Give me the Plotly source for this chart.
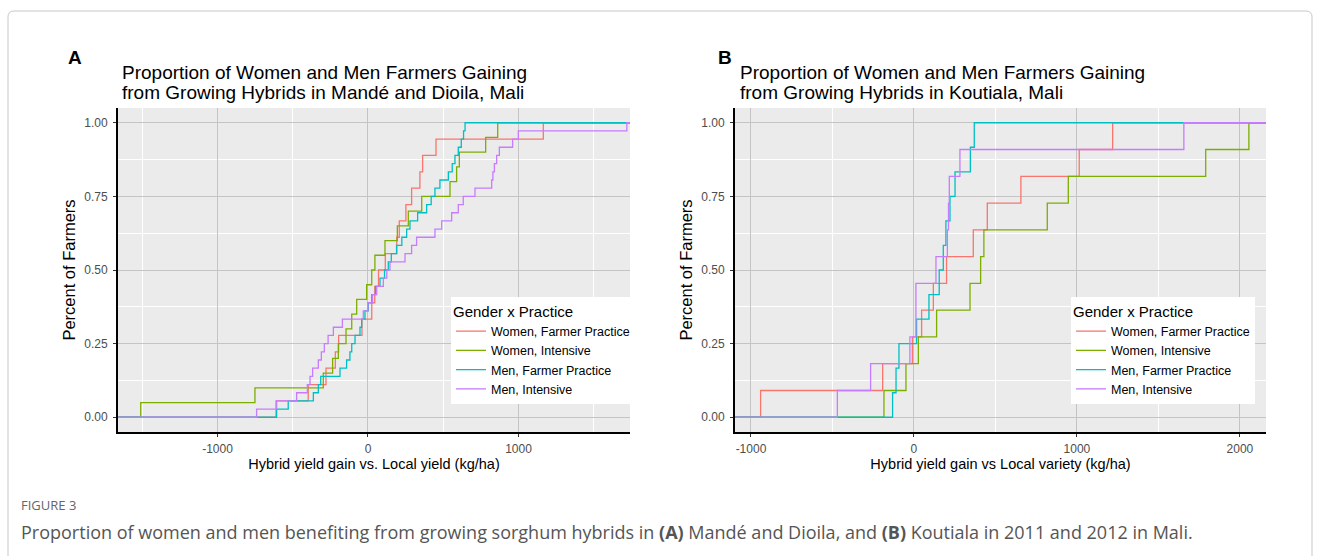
import plotly.graph_objects as go

W, H = 1320, 556

# ---------------- data (sample values per group, kg/ha) ----------------
groups = ["Women, Farmer Practice", "Women, Intensive", "Men, Farmer Practice", "Men, Intensive"]
colors = ["#F8766D", "#7CAE00", "#00BFC4", "#C77CFF"]

# Panel A: Mandé and Dioila
a_women_fp = [-611, -397, -279, -217, -195, -40, 25, 45, 70, 115, 191, 208, 252, 290, 345, 363, 452, 1165]
a_women_int = [-1510, -751, -297, -235, -197, -146, -108, -75, -9, 25, 46, 113, 195, 268, 357, 545, 589, 607, 782, 862]
a_men_fp = [-607, -530, -363, -330, -314, -186, -142, -120, -108, -86, -53, -42, -20, 2, 25, 50, 80, 110, 135, 155,
            190, 225, 257, 279, 330, 390, 420, 445, 478, 534, 560, 578, 600, 620, 635, 645]
a_men_int = [-740, -607, -474, -403, -385, -368, -330, -310, -290, -265, -230, -170, -31, 0, 30, 58, 102, 125,
             146, 246, 290, 323, 445, 490, 556, 600, 633, 711, 822, 830, 840, 855, 873, 961, 999, 1720]

# Panel B: Koutiala
b_women_fp = [-941, -192, -10, 47, 119, 200, 364, 450, 656, 1014, 1219]
b_women_int = [-184, -49, 27, 139, 344, 409, 429, 818, 947, 1790, 2055]
b_men_fp = [-131, -110, -92, 16, 92, 155, 180, 196, 221, 252, 346, 370]
b_men_int = [-470, -266, -25, 12, 12, 135, 205, 212, 217, 282, 1656]

x_ticks_a = [-1000, 0, 1000]
x_ticks_b = [-1000, 0, 1000, 2000]
y_ticks = [0, 0.25, 0.5, 0.75, 1.0]

title_a = ["Proportion of Women and Men Farmers Gaining", "from Growing Hybrids in Mandé and Dioila, Mali"]
title_b = ["Proportion of Women and Men Farmers Gaining", "from Growing Hybrids in Koutiala, Mali"]
xlab_a = "Hybrid yield gain vs. Local yield (kg/ha)"
xlab_b = "Hybrid yield gain vs Local variety (kg/ha)"
ylab = "Percent of Farmers"
caption = ("Proportion of women and men benefiting from growing sorghum hybrids in <b>(A)</b> Mandé and Dioila, "
           "and <b>(B)</b> Koutiala in 2011 and 2012 in Mali.")

# ---------------- layout geometry (pixels) ----------------
A_L, A_R = 118, 630
B_L, B_R = 735, 1266
P_T, P_B = 108, 432
range_a = [-1661, 1741]
range_b = [-1098, 2160]


def px(x):
    return x / W


def py(y):
    return 1 - y / H


def ecdf(vals, lo, hi):
    v = sorted(vals)
    n = len(v)
    xs = [lo] + v + [hi]
    ys = [0.0] + [(i + 1) / n for i in range(n)] + [1.0]
    return xs, ys


fig = go.Figure()
FONT = "Liberation Sans, Arial, sans-serif"

for data, xa, ya, leg, rng in [
    ([a_women_fp, a_women_int, a_men_fp, a_men_int], "x", "y", "legend", range_a),
    ([b_women_fp, b_women_int, b_men_fp, b_men_int], "x2", "y2", "legend2", range_b),
]:
    for g, c, vals in zip(groups, colors, data):
        xs, ys = ecdf(vals, rng[0], rng[1])
        fig.add_trace(go.Scatter(
            x=xs, y=ys, mode="lines", line=dict(color=c, width=1.3, shape="hv"),
            name=g, xaxis=xa, yaxis=ya, legend=leg, showlegend=True, hoverinfo="x+y+name",
        ))

axis_common = dict(
    showline=True, linecolor="black", linewidth=2, mirror=False,
    ticks="outside", ticklen=3, tickcolor="#333333", tickwidth=1,
    showgrid=True, gridcolor="#c4c4c4", gridwidth=1.4, zeroline=False,
    tickfont=dict(family=FONT, size=12, color="#4d4d4d"),
)
xminor = dict(dtick=500, tick0=0, showgrid=True, gridcolor="white", gridwidth=1, ticks="")
yminor = dict(dtick=0.125, tick0=0, showgrid=True, gridcolor="white", gridwidth=1, ticks="")

fig.update_layout(
    width=W, height=H, margin=dict(l=0, r=0, t=0, b=0),
    paper_bgcolor="white", plot_bgcolor="#EBEBEB",
    font=dict(family=FONT, color="black"),
    xaxis=dict(domain=[px(A_L), px(A_R)], range=range_a, tickvals=x_ticks_a,
               ticktext=[str(t) for t in x_ticks_a], minor=xminor, ticklabelstandoff=2,
               title=dict(text=xlab_a, font=dict(size=14.5, family=FONT), standoff=3),
               anchor="y", **axis_common),
    yaxis=dict(domain=[py(P_B), py(P_T)], range=[-0.05, 1.05], tickvals=y_ticks,
               tickformat=".2f", minor=yminor, ticklabelstandoff=3,
               title=dict(text=ylab, font=dict(size=16.5, family=FONT), standoff=4),
               anchor="x", **axis_common),
    xaxis2=dict(domain=[px(B_L), px(B_R)], range=range_b, tickvals=x_ticks_b,
                ticktext=[str(t) for t in x_ticks_b], minor=xminor, ticklabelstandoff=2,
                title=dict(text=xlab_b, font=dict(size=14.5, family=FONT), standoff=3),
                anchor="y2", **axis_common),
    yaxis2=dict(domain=[py(P_B), py(P_T)], range=[-0.05, 1.05], tickvals=y_ticks,
                tickformat=".2f", minor=yminor, ticklabelstandoff=3,
                title=dict(text=ylab, font=dict(size=16.5, family=FONT), standoff=4),
                anchor="x2", **axis_common),
    legend=dict(x=px(451), y=py(297), xanchor="left", yanchor="top",
                bgcolor="white", borderwidth=0,
                title=dict(text="Gender x Practice", font=dict(size=15, family=FONT)),
                font=dict(size=12.5, family=FONT), tracegroupgap=0),
    legend2=dict(x=px(1071), y=py(297), xanchor="left", yanchor="top",
                 bgcolor="white", borderwidth=0,
                 title=dict(text="Gender x Practice", font=dict(size=15, family=FONT)),
                 font=dict(size=12.5, family=FONT), tracegroupgap=0),
    showlegend=True,
)

ann = []


def add_text(text, x, y, size, color="black", family=FONT, xanchor="left"):
    ann.append(dict(text=text, x=px(x), y=py(y), xref="paper", yref="paper", xanchor=xanchor,
                    yanchor="middle", align="left", showarrow=False,
                    font=dict(size=size, family=family, color=color)))


add_text("<b>A</b>", 66, 57, 19)
add_text("<b>B</b>", 716, 57, 19)
add_text(title_a[0], 120, 73, 19)
add_text(title_a[1], 120, 93, 19)
add_text(title_b[0], 738, 73, 19)
add_text(title_b[1], 738, 93, 19)
add_text("FIGURE 3", 19, 505, 13, color="#666666", family="Open Sans, sans-serif")
add_text(caption, 19, 532, 18, color="#555555", family="Open Sans, sans-serif")
fig.update_layout(annotations=ann)

# outer frame with rounded top corners
x0, x1, yt, yb = 8, 1312, 11, 600
r = 6
path = (f"M {px(x0)},{py(yb)} L {px(x0)},{py(yt + r)} Q {px(x0)},{py(yt)} {px(x0 + r)},{py(yt)} "
        f"L {px(x1 - r)},{py(yt)} Q {px(x1)},{py(yt)} {px(x1)},{py(yt + r)} L {px(x1)},{py(yb)}")
fig.add_shape(type="path", path=path, xref="paper", yref="paper",
              line=dict(color="#c8c8c8", width=1), layer="below")

fig.write_html("out.html", config={"displayModeBar": False},
               post_script="document.body.style.margin='0px';")
